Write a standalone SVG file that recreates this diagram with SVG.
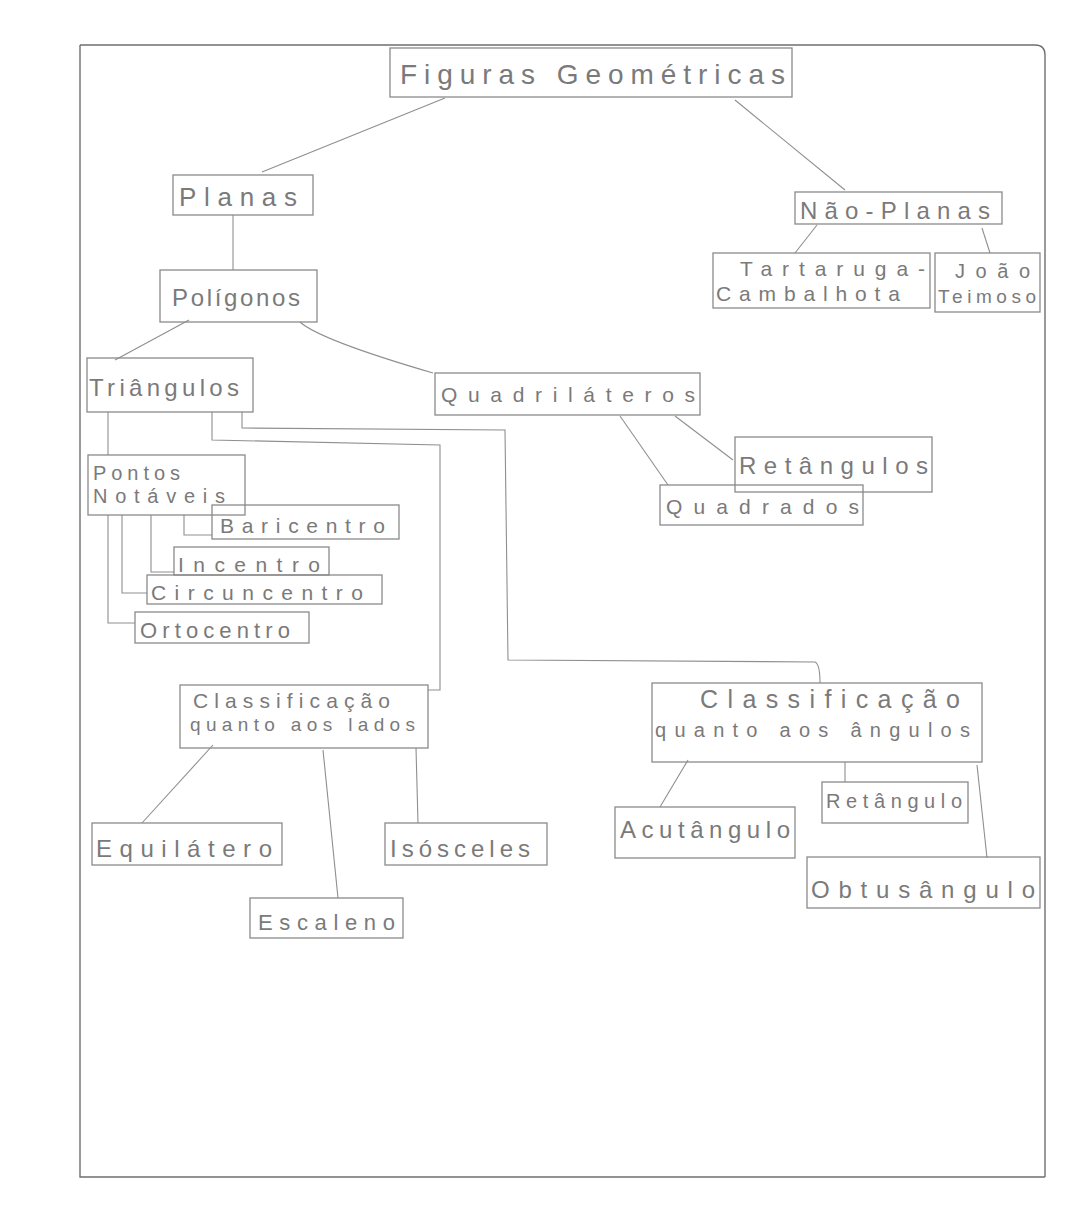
<svg xmlns="http://www.w3.org/2000/svg" width="1085" height="1216" viewBox="0 0 1085 1216">
<style>
.b{fill:none;stroke:#8a8a8a;stroke-width:1.3}
.c{fill:none;stroke:#8f8f8f;stroke-width:1.1}
.p{fill:none;stroke:#6f6f6f;stroke-width:1.4}
text{font-family:"Liberation Sans",Arial,sans-serif;fill:#7a7a7a;lengthAdjust:spacing}
</style>
<rect width="1085" height="1216" fill="#ffffff"/>
<g id="page">
<path class="p" d="M80 45 L1035 45 Q1045 45 1045 55 L1045 1177 M80 45 L80 1177 L1045 1177"/>
</g>
<g id="connectors">
<path class="c" d="M445 98 L262 172"/>
<path class="c" d="M735 100 L845 190"/>
<path class="c" d="M817 225 L795 253"/>
<path class="c" d="M982 228 L990 253"/>
<path class="c" d="M233 215 L233 270"/>
<path class="c" d="M189 320 L115 360"/>
<path class="c" d="M300 322 Q320 340 433 373"/>
<path class="c" d="M675 416 L733 460"/>
<path class="c" d="M620 416 L668 485"/>
<path class="c" d="M108 412 L108 455"/>
<path class="c" d="M184 515 L184 535 L212 535"/>
<path class="c" d="M151 515 L151 572 L174 572"/>
<path class="c" d="M122 515 L122 593 L147 593"/>
<path class="c" d="M108 515 L108 623 L135 623"/>
<path class="c" d="M212 412 L212 440 L440 445 L440 690 L428 690"/>
<path class="c" d="M242 412 L242 428 L505 430 L508 660 L815 662 Q820 664 820 683"/>
<path class="c" d="M213 745 L142 823"/>
<path class="c" d="M323 750 L338 898"/>
<path class="c" d="M416 748 L418 823"/>
<path class="c" d="M688 760 L660 807"/>
<path class="c" d="M845 762 L845 782"/>
<path class="c" d="M977 765 L987 858"/>
</g>
<g id="n-figuras"><rect class="b" x="390" y="48" width="402" height="49"/><text x="400" y="84" font-size="28" textLength="385">Figuras Geométricas</text></g>
<g id="n-planas"><rect class="b" x="173" y="175" width="140" height="40"/><text x="179" y="206" font-size="26" textLength="118">Planas</text></g>
<g id="n-naoplanas"><rect class="b" x="795" y="192" width="207" height="32"/><text x="800" y="219" font-size="24" textLength="190">Não-Planas</text></g>
<g id="n-tartaruga"><rect class="b" x="713" y="253" width="217" height="55"/><text x="740" y="276" font-size="21" textLength="185">Tartaruga-</text><text x="716" y="301" font-size="21" textLength="184">Cambalhota</text></g>
<g id="n-joao"><rect class="b" x="935" y="253" width="105" height="59"/><text x="955" y="278" font-size="20" textLength="75">João</text><text x="938" y="303" font-size="19" textLength="98">Teimoso</text></g>
<g id="n-poligonos"><rect class="b" x="160" y="270" width="157" height="52"/><text x="172" y="306" font-size="24" textLength="128">Polígonos</text></g>
<g id="n-triangulos"><rect class="b" x="87" y="358" width="166" height="54"/><text x="89" y="396" font-size="24" textLength="150">Triângulos</text></g>
<g id="n-quadrilateros"><rect class="b" x="435" y="373" width="265" height="42"/><text x="441" y="402" font-size="21" textLength="254">Quadriláteros</text></g>
<g id="n-retangulos"><rect class="b" x="735" y="437" width="197" height="55"/><text x="739" y="474" font-size="24" textLength="189">Retângulos</text></g>
<g id="n-quadrados"><rect class="b" x="660" y="485" width="203" height="40"/><text x="666" y="514" font-size="21" textLength="193">Quadrados</text></g>
<g id="n-pontos"><rect class="b" x="88" y="455" width="157" height="60"/><text x="93" y="480" font-size="20" textLength="87">Pontos</text><text x="93" y="503" font-size="20" textLength="132">Notáveis</text></g>
<g id="n-baricentro"><rect class="b" x="212" y="505" width="187" height="34"/><text x="220" y="533" font-size="21" textLength="165">Baricentro</text></g>
<g id="n-incentro"><rect class="b" x="174" y="547" width="155" height="28"/><text x="178" y="572" font-size="21" textLength="142">Incentro</text></g>
<g id="n-circuncentro"><rect class="b" x="147" y="575" width="235" height="29"/><text x="151" y="600" font-size="21" textLength="212">Circuncentro</text></g>
<g id="n-ortocentro"><rect class="b" x="135" y="612" width="174" height="31"/><text x="140" y="638" font-size="22" textLength="150">Ortocentro</text></g>
<g id="n-class-lados"><rect class="b" x="180" y="685" width="248" height="63"/><text x="193" y="708" font-size="21" textLength="197">Classificação</text><text x="190" y="731" font-size="19" textLength="225">quanto aos lados</text></g>
<g id="n-class-angulos"><rect class="b" x="652" y="683" width="330" height="79"/><text x="700" y="708" font-size="25" textLength="260">Classificação</text><text x="655" y="737" font-size="20" textLength="315">quanto aos ângulos</text></g>
<g id="n-equilatero"><rect class="b" x="92" y="823" width="190" height="42"/><text x="96" y="857" font-size="24" textLength="176">Equilátero</text></g>
<g id="n-escaleno"><rect class="b" x="250" y="898" width="153" height="40"/><text x="258" y="930" font-size="22" textLength="137">Escaleno</text></g>
<g id="n-isosceles"><rect class="b" x="385" y="823" width="162" height="42"/><text x="390" y="857" font-size="24" textLength="140">Isósceles</text></g>
<g id="n-acutangulo"><rect class="b" x="615" y="807" width="180" height="51"/><text x="620" y="838" font-size="24" textLength="170">Acutângulo</text></g>
<g id="n-retangulo"><rect class="b" x="822" y="782" width="146" height="41"/><text x="826" y="808" font-size="20" textLength="136">Retângulo</text></g>
<g id="n-obtusangulo"><rect class="b" x="807" y="857" width="233" height="51"/><text x="811" y="898" font-size="24" textLength="224">Obtusângulo</text></g>
</svg>
